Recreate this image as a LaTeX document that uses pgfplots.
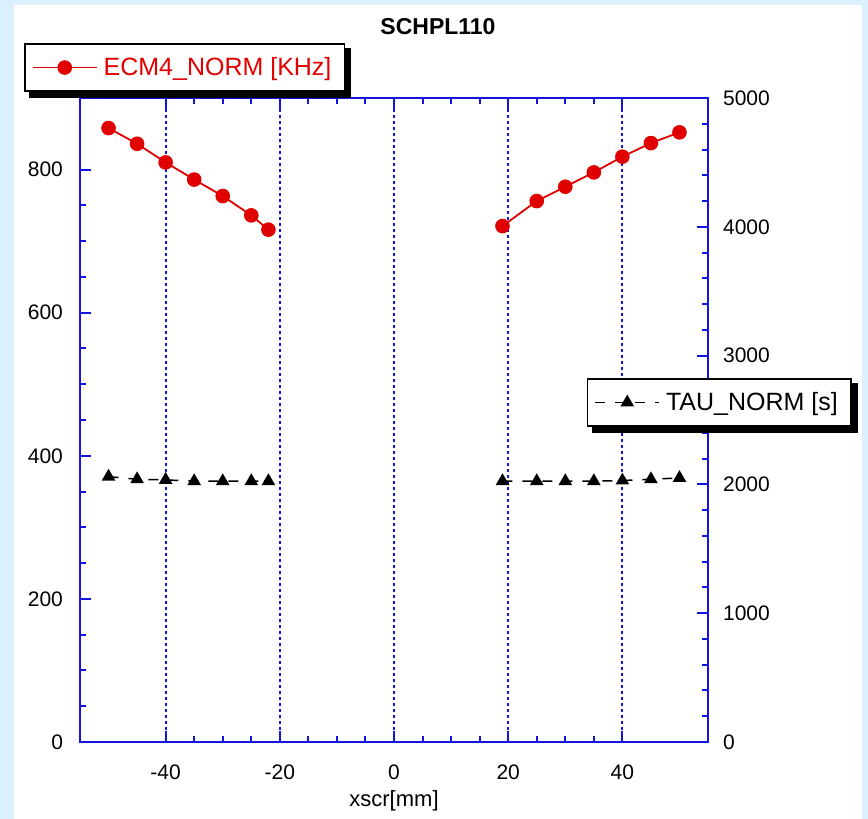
\documentclass[border=0pt]{standalone}
\usepackage{fontspec}
\setmainfont{Liberation Sans}
\usepackage{pgfplots}
\pgfplotsset{compat=1.18}

\definecolor{bgblue}{RGB}{218,240,252}
\definecolor{axblue}{RGB}{20,20,225}
\definecolor{ecmred}{RGB}{225,0,0}

\pgfplotsset{
  schbase/.style={
    at={(0pt,0pt)}, anchor=south west,
    scale only axis, width=314pt, height=322pt,
    xmin=-55, xmax=55,
    tick align=inside,
    major tick length=5.5pt, minor tick length=3pt,
    axis line style={axblue, line width=1pt},
    every tick/.style={axblue, line width=1pt},
    tick label style={font=\fontsize{10.5}{12}\selectfont},
    /pgf/number format/assume math mode=true,
    /pgf/number format/1000 sep={},
    unbounded coords=jump,
    legend image code/.code={%
      \draw[mark repeat=2,mark phase=2,##1] plot coordinates {(0pt,0pt) (16pt,0pt) (32pt,0pt)};},
  },
  schlegend/.style={
    draw=black, line width=0.75pt, fill=white,
    font=\fontsize{12.5}{15}\selectfont,
    inner xsep=3.5pt, inner ysep=4.5pt,
    nodes={inner xsep=3pt},
  },
}

\begin{document}
\begin{tikzpicture}
\fill[bgblue] (-40pt,-38.5pt) rectangle (394pt,371pt);
\fill[white] (-33pt,-38.5pt) rectangle (391pt,368.5pt);

\begin{axis}[
  schbase,
  ymin=0, ymax=900,
  xtick={-40,-20,0,20,40}, minor x tick num=3,
  xtick pos=both, ytick pos=left,
  ytick={0,200,400,600,800}, minor y tick num=3,
  xmajorgrids,
  major x grid style={axblue, line width=1pt, dash pattern=on 1.5pt off 1.5pt},
  xticklabel style={yshift=-8pt},
  yticklabel style={xshift=-5pt},
  xlabel={xscr[mm]},
  xlabel style={font=\fontsize{11}{13}\selectfont, yshift=1.5pt},
  legend style={schlegend, name=ecmleg, at={(-0.089,1.085)}, anchor=north west},
]
\addplot[ecmred, line width=0.9pt, mark=*, mark size=3.2pt, mark options={solid, fill=ecmred}]
  coordinates {
    (-50,858) (-45,836) (-40,810) (-35,786) (-30,763) (-25,736) (-22,716)
    (0,nan)
    (19,721) (25,756) (30,776) (35,796) (40,818) (45,837) (50,852)
  };
\addlegendentry{\textcolor{ecmred}{ECM4\_NORM [KHz]}}
\end{axis}

\begin{axis}[
  schbase,
  ymin=0, ymax=5000,
  axis x line=none, axis y line*=right,
  ytick={0,1000,2000,3000,4000,5000}, minor y tick num=4,
  yticklabel style={xshift=4pt},
  legend style={schlegend, name=tauleg, at={(0.807,0.565)}, anchor=north west},
]
\addplot[black, line width=0.75pt, dash pattern=on 5pt off 5pt, mark=triangle*, mark size=3.2pt, mark options={solid, fill=black}]
  coordinates {
    (-50,2060) (-45,2040) (-40,2035) (-35,2025) (-30,2025) (-25,2025) (-22,2025)
    (0,nan)
    (19,2025) (25,2025) (30,2025) (35,2025) (40,2030) (45,2040) (50,2050)
  };
\addlegendentry{TAU\_NORM [s]}
\end{axis}

% title, over the picture's centre (axis corner is at the origin)
\node[font=\bfseries\fontsize{11.5}{14}\selectfont] at (179pt,357.5pt) {SCHPL110};

% drop shadows of the two legend boxes
\foreach \lg in {ecmleg,tauleg}{
  \fill[black] ([yshift=-2.5pt]\lg.north east) rectangle ([xshift=3pt,yshift=-3pt]\lg.south east);
  \fill[black] ([xshift=2.5pt]\lg.south west) rectangle ([xshift=3pt,yshift=-3pt]\lg.south east);
}

\pgfresetboundingbox
\path[use as bounding box] (-40pt,-38.5pt) rectangle (394pt,371pt);
\end{tikzpicture}
\end{document}
